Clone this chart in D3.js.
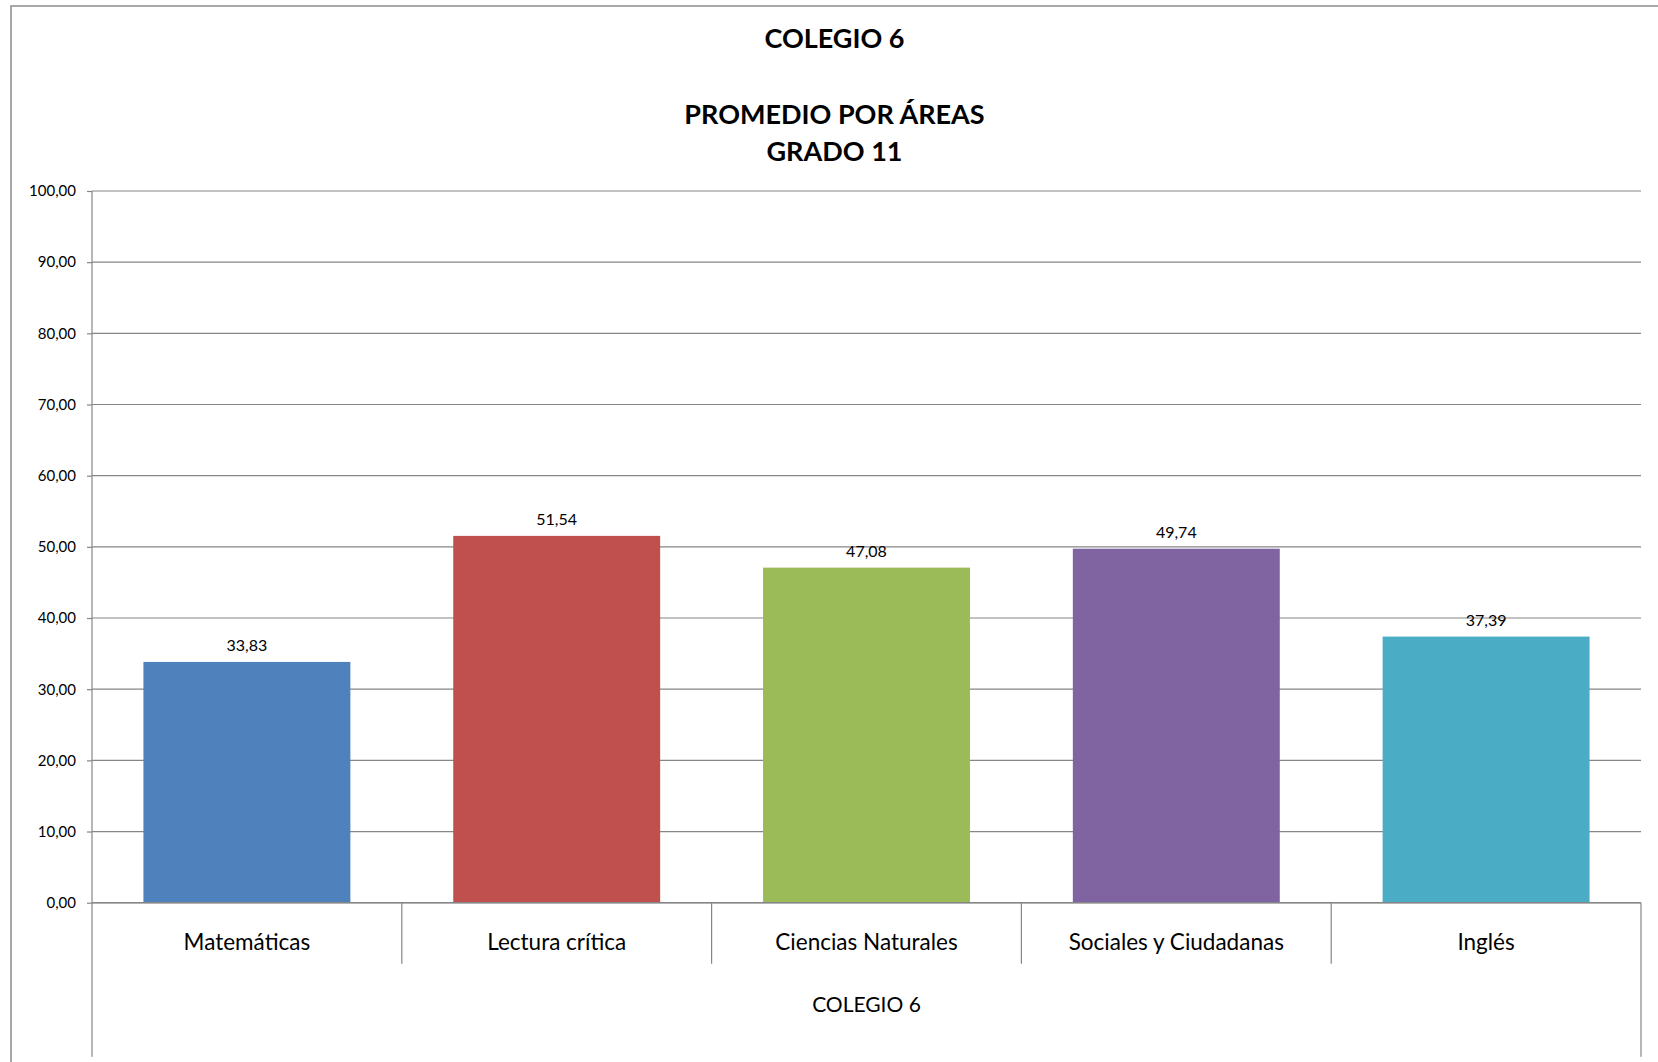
<!DOCTYPE html>
<html>
<head>
<meta charset="utf-8">
<script src="https://cdn.jsdelivr.net/npm/d3@7"></script>
<style>
body{margin:0;background:#fff;overflow:hidden;}
svg{display:block;}
text{font-family:Lato,"Open Sans",sans-serif;fill:#000;}
</style>
</head>
<body>
<div id="chart"></div>
<script>
var categories=["Matemáticas","Lectura crítica","Ciencias Naturales","Sociales y Ciudadanas","Inglés"];
var values=[33.83,51.54,47.08,49.74,37.39];
var colors=["#4F81BD","#C0504D","#9BBB59","#8064A2","#4BACC6"];
var yTicks=[0,10,20,30,40,50,60,70,80,90,100];
var titleLines=["COLEGIO 6","PROMEDIO POR ÁREAS","GRADO 11"];
var groupLabel="COLEGIO 6";

var W=1658,H=1062;
var margins={l:92,r:17,t:191,b:159.3};
var plotW=W-margins.l-margins.r, plotH=H-margins.t-margins.b;
var fmt=function(v){return v.toFixed(2).replace(".",",")};

var svg=d3.select("#chart").append("svg").attr("width",W).attr("height",H);

// chart area border
svg.append("path")
    .attr("d","M11,1062 L11,6 L1658,6")
    .attr("fill","none").attr("stroke","#8c8c8c").attr("stroke-width",1.5);

// titles
var titleY=[47.5,123.5,161];
svg.selectAll("text.title").data(titleLines).enter().append("text")
    .attr("class","title")
    .attr("x",834.5).attr("y",function(d,i){return titleY[i]})
    .attr("text-anchor","middle")
    .style("font-weight","bold").style("font-size","27px")
    .text(function(d){return d});

var g=svg.append("g").attr("transform","translate("+margins.l+","+margins.t+")");

var y=d3.scaleLinear().domain([0,100]).range([plotH,0]);
var x=d3.scaleBand().domain(categories).range([0,plotW]).paddingInner(0.332).paddingOuter(0.166);
var step=x.step();

// gridlines
g.selectAll("line.grid").data(yTicks).enter().append("line")
    .attr("x1",0).attr("x2",plotW)
    .attr("y1",function(d){return y(d)}).attr("y2",function(d){return y(d)})
    .attr("stroke","#868686").attr("stroke-width",1.2);

// y axis
var yAxis=g.append("g").call(d3.axisLeft(y).tickValues(yTicks).tickSize(5).tickPadding(11).tickFormat(fmt));
yAxis.select(".domain").remove();
yAxis.selectAll(".tick line").attr("stroke","#868686").attr("stroke-width",1.2);
yAxis.selectAll(".tick text").style("font-size","15px").style("font-family","Lato,sans-serif").attr("fill","#000");

// vertical axis line, extends down to the group label level
g.append("line").attr("x1",0).attr("x2",0).attr("y1",0).attr("y2",plotH+154)
    .attr("stroke","#868686").attr("stroke-width",1.2);
g.append("line").attr("x1",plotW).attr("x2",plotW).attr("y1",plotH).attr("y2",plotH+154)
    .attr("stroke","#868686").attr("stroke-width",1.2);

// bars
g.selectAll("rect.bar").data(values).enter().append("rect")
    .attr("class","bar")
    .attr("x",function(d,i){return x(categories[i])})
    .attr("width",x.bandwidth())
    .attr("y",function(d){return y(d)})
    .attr("height",function(d){return plotH-y(d)})
    .attr("fill",function(d,i){return colors[i]});

// category axis line
g.append("line").attr("x1",0).attr("x2",plotW).attr("y1",plotH).attr("y2",plotH)
    .attr("stroke","#868686").attr("stroke-width",1.5);

// category separators
g.selectAll("line.sep").data(d3.range(1,categories.length)).enter().append("line")
    .attr("x1",function(d){return d*step}).attr("x2",function(d){return d*step})
    .attr("y1",plotH).attr("y2",plotH+61)
    .attr("stroke","#868686").attr("stroke-width",1.2);

// value labels
g.selectAll("text.val").data(values).enter().append("text")
    .attr("x",function(d,i){return x(categories[i])+x.bandwidth()/2})
    .attr("y",function(d){return y(d)-11})
    .attr("text-anchor","middle").style("font-size","16px")
    .text(fmt);

// category labels
g.selectAll("text.cat").data(categories).enter().append("text")
    .attr("x",function(d){return x(d)+x.bandwidth()/2})
    .attr("y",plotH+47)
    .attr("text-anchor","middle").style("font-size","22.5px")
    .text(function(d){return d});

g.append("text").attr("x",plotW/2).attr("y",plotH+109)
    .attr("text-anchor","middle").style("font-size","21px")
    .text(groupLabel);
</script>
</body>
</html>
